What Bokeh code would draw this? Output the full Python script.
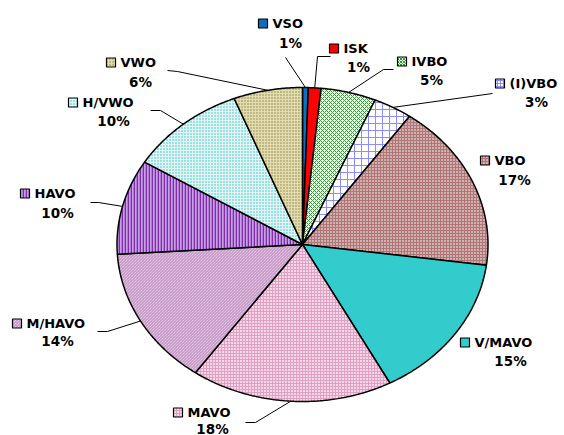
import math
from bokeh.plotting import figure
from bokeh.models import Range1d, ColumnDataSource
from bokeh.core.properties import value
from bokeh.embed import file_html
from bokeh.resources import INLINE

# ---------------- data ----------------
categories = ["VSO", "ISK", "IVBO", "(I)VBO", "VBO", "V/MAVO", "MAVO",
              "M/HAVO", "HAVO", "H/VWO", "VWO"]
shares = [0.5, 1.1, 4.8, 3.4, 17.3, 15.1, 17.6, 14.2, 9.8, 10.2, 6.0]
pct_labels = ["1%", "1%", "5%", "3%", "17%", "15%", "18%", "14%", "10%", "10%", "6%"]

# ---------------- styles ----------------
fill_colors = ["#0B70BE", "#FF0000", "#F4FBF4", "#FFFFFF", "#D2B0B0", "#33CCCC",
               "#F6D6E8", "#F2DEF2", "#C89EE2", "#E2F6F6", "#E2DCAE"]
hatch_patterns = [" ", " ", "diagonal_cross", "cross", "cross", " ",
                  "cross", "left_diagonal_line", "vertical_line", "dot", "dot"]
hatch_colors = ["#000000", "#000000", "#2E9A2E", "#8C8CFF", "#AE7676", "#000000",
                "#DDA2C2", "#BB88BB", "#7E2CB0", "#2BBDBD", "#8C8244"]
hatch_scales = [4, 4, 4, 7, 3, 4, 3, 3, 3, 3, 3]
hatch_weights = [1, 1, 1, 1, 1, 1, 1, 1, 1.6, 1.4, 1.2]

# ---------------- layout (px, as in the reference picture) ----------------
W, H = 564, 435
CX, CY, RX, RY = 302, 244, 185.5, 157.0
label_sq_x = [258, 329, 397, 495, 480, 460, 173, 12, 20, 68, 106]
label_y = [23, 48, 61, 83, 160, 342, 412, 323, 193, 102, 62]
pct_dy = [19, 18, 18, 18, 19, 18, 16, 17, 19, 18, 19]
pct_cx = [290, 358, 431, 536, 514, 510, 212, 57, 57, 113, 140]
leader_start = [(285, 57), (330, 56), (393, 69), (492, 93), None, None,
                (245, 422), (97, 331), (90, 202), (150, 110), (167, 70)]
leader_elbow = [None, (317, 56), (383, 69), None, None, None,
                (255, 422), (107, 331), (98, 202), (160, 110), (177, 71)]

p = figure(width=W, height=H, output_backend="svg", toolbar_location=None,
           x_range=Range1d(0, W), y_range=Range1d(H, 0),
           min_border=0, min_border_left=0, min_border_right=0,
           min_border_top=0, min_border_bottom=0)
p.axis.visible = False
p.grid.visible = False
p.outline_line_color = None
p.background_fill_color = "white"
p.border_fill_color = "white"

# ---------------- pie slices ----------------
total = sum(shares)
xs, ys, mids = [], [], []
cum = 0.0
for s in shares:
    t0 = 2 * math.pi * cum / total
    t1 = 2 * math.pi * (cum + s) / total
    n = max(3, int(math.degrees(t1 - t0) * 2))
    px = [CX]
    py = [CY]
    for i in range(n + 1):
        t = t0 + (t1 - t0) * i / n
        px.append(CX + RX * math.sin(t))
        py.append(CY - RY * math.cos(t))
    xs.append(px)
    ys.append(py)
    mids.append((t0 + t1) / 2)
    cum += s

src = ColumnDataSource(dict(xs=xs, ys=ys, fc=fill_colors, hp=hatch_patterns,
                            hc=hatch_colors, hs=hatch_scales, hw=hatch_weights))
p.patches("xs", "ys", source=src, fill_color="fc", hatch_pattern="hp",
          hatch_color="hc", hatch_scale="hs", hatch_weight="hw",
          line_color="black", line_width=1.5)

# ---------------- leader lines ----------------
lx, ly = [], []
for i, st in enumerate(leader_start):
    if st is None:
        continue
    ex = CX + RX * math.sin(mids[i])
    ey = CY - RY * math.cos(mids[i])
    pts = [st]
    if leader_elbow[i] is not None:
        pts.append(leader_elbow[i])
    lx.append([q[0] for q in pts] + [ex])
    ly.append([q[1] for q in pts] + [ey])
p.multi_line(lx, ly, line_color="black", line_width=1)

# ---------------- label keys ----------------
key_src = ColumnDataSource(dict(
    x=[v + 4.5 for v in label_sq_x], y=label_y,
    fc=fill_colors, hp=hatch_patterns, hc=hatch_colors,
    hs=[min(v, 3) for v in hatch_scales], hw=hatch_weights))
p.rect("x", "y", width=9, height=9, source=key_src, fill_color="fc",
       hatch_pattern="hp", hatch_color="hc", hatch_scale="hs", hatch_weight="hw",
       line_color="black", line_width=1.2)

font = value("DejaVu Sans")
p.text(x=[v + 14 for v in label_sq_x], y=label_y,
       text=categories, text_font=font, text_font_style="bold",
       text_font_size="13px", text_align="left", text_baseline="middle",
       text_color="black")
p.text(x=pct_cx, y=[v + d for v, d in zip(label_y, pct_dy)],
       text=pct_labels, text_font=font, text_font_style="bold",
       text_font_size="13.5px", text_align="center", text_baseline="middle",
       text_color="black")

open("out.html", "w").write(file_html(p, INLINE))
